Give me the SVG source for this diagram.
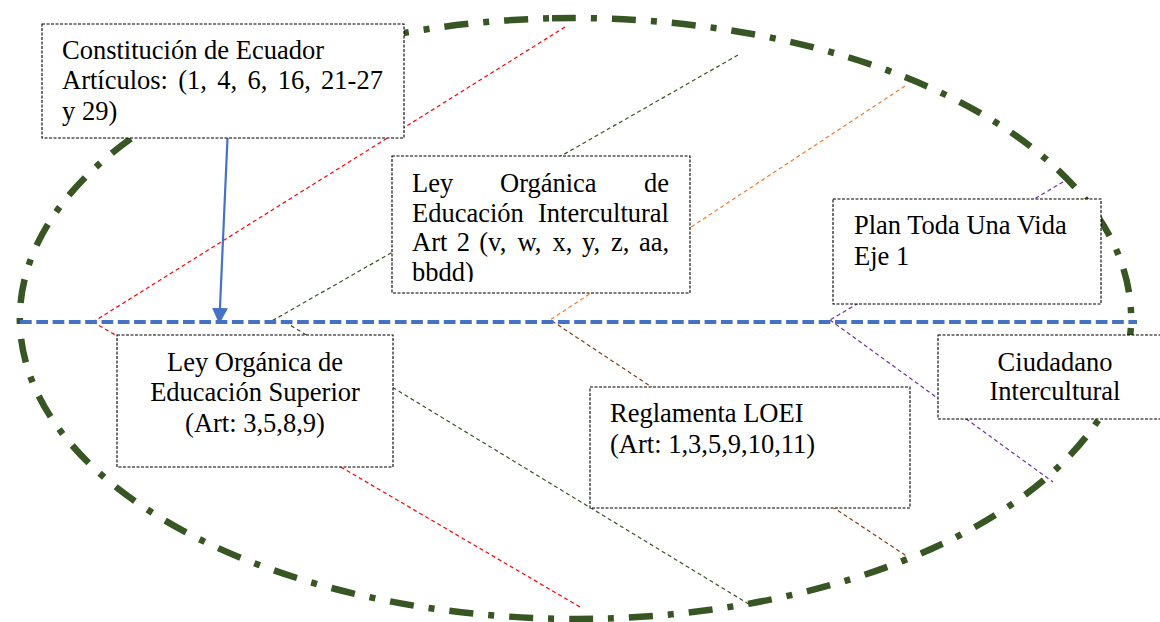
<svg xmlns="http://www.w3.org/2000/svg" width="1160" height="622" viewBox="0 0 1160 622">
<style>
  .box { fill: #ffffff; stroke: #000000; stroke-width: 1.1; stroke-dasharray: 3 1.5; }
  .t { font-family: "Liberation Serif", "Times New Roman", serif; font-size: 26.5px; fill: #000000; }
  .c { text-anchor: middle; }
  .thin { fill: none; stroke-width: 1.2; stroke-dasharray: 4 3; }
  .red { stroke: #FF0000; }
  .green { stroke: #375623; }
  .orange { stroke: #ED7D31; }
  .brown { stroke: #843C0C; }
  .purple { stroke: #7030A0; }
  .spine { stroke: #4472C4; stroke-width: 4; stroke-dasharray: 11.7 4.6; fill: none; }
  .arrow { stroke: #4472C4; stroke-width: 2.2; fill: none; }
  .oval { fill: none; stroke: #375623; stroke-width: 6.5; stroke-dasharray: 24 15 6 15; }
</style>
<defs>
  <marker id="ah" viewBox="0 0 16 16" markerWidth="16" markerHeight="16" markerUnits="userSpaceOnUse" refX="15" refY="8" orient="auto">
    <path d="M0,0 L16,8 L0,16 Z" fill="#4472C4"/>
  </marker>
  <clipPath id="clip2"><rect x="392" y="156" width="298" height="126"/></clipPath>
</defs>

<path id="oval" class="oval" d="M552,18.27 A558.5,300.5 0 0 1 599,618.73 A558.5,300.5 0 0 1 552,18.27 Z"/>

<g id="connectors">
  <line class="thin red" x1="565" y1="27" x2="93" y2="322"/>
  <line class="thin red" x1="93" y1="322" x2="580" y2="607"/>
  <line class="thin green" x1="738" y1="55" x2="270" y2="322"/>
  <line class="thin green" x1="285" y1="322" x2="752" y2="606"/>
  <line class="thin orange" x1="905" y1="86" x2="550" y2="320"/>
  <line class="thin brown" x1="552" y1="321" x2="908" y2="557"/>
  <line class="thin purple" x1="1063" y1="182" x2="830" y2="320"/>
  <line class="thin purple" x1="830" y1="320" x2="1053" y2="482"/>
  <line class="spine" x1="20" y1="322" x2="1137" y2="322"/>
  <line class="arrow" x1="227.5" y1="138" x2="219.3" y2="323" marker-end="url(#ah)"/>
</g>

<g id="constitucion">
  <rect class="box" x="42" y="24" width="362" height="114"/>
  <text class="t" x="62" y="59">Constitución de Ecuador</text>
  <text class="t" y="89"><tspan x="62">Artículos:</tspan><tspan x="178.3">(1,</tspan><tspan x="217.3">4,</tspan><tspan x="247.5">6,</tspan><tspan x="277.7">16,</tspan><tspan x="321.1">21-27</tspan></text>
  <text class="t" x="62" y="120">y 29)</text>
</g>

<g id="loei">
  <rect class="box" x="392" y="156" width="298" height="137"/>
  <g clip-path="url(#clip2)">
    <text class="t" y="192"><tspan x="412">Ley</tspan><tspan x="500">Orgánica</tspan><tspan x="644">de</tspan></text>
    <text class="t" y="221.5"><tspan x="412">Educación</tspan><tspan x="538">Intercultural</tspan></text>
    <text class="t" y="251"><tspan x="412">Art</tspan><tspan x="456.7">2</tspan><tspan x="479.3">(v,</tspan><tspan x="517.4">w,</tspan><tspan x="552.6">x,</tspan><tspan x="581.9">y,</tspan><tspan x="611.1">z,</tspan><tspan x="638.9">aa,</tspan></text>
    <text class="t" x="412" y="280.5">bbdd)</text>
  </g>
</g>

<g id="plan">
  <rect class="box" x="833" y="199" width="268" height="105"/>
  <text class="t" x="854" y="234">Plan Toda Una Vida</text>
  <text class="t" x="854" y="265">Eje 1</text>
</g>

<g id="ciudadano">
  <rect class="box" x="938" y="335" width="234" height="84"/>
  <text class="t c" x="1055" y="371">Ciudadano</text>
  <text class="t c" x="1055" y="400">Intercultural</text>
</g>

<g id="loes">
  <rect class="box" x="117" y="335" width="276" height="132"/>
  <text class="t c" x="255" y="371">Ley Orgánica de</text>
  <text class="t c" x="255" y="401">Educación Superior</text>
  <text class="t c" x="255" y="432">(Art: 3,5,8,9)</text>
</g>

<g id="reglamento">
  <rect class="box" x="590" y="387" width="320" height="121"/>
  <text class="t" x="610" y="422">Reglamenta LOEI</text>
  <text class="t" x="610" y="453">(Art: 1,3,5,9,10,11)</text>
</g>
</svg>
